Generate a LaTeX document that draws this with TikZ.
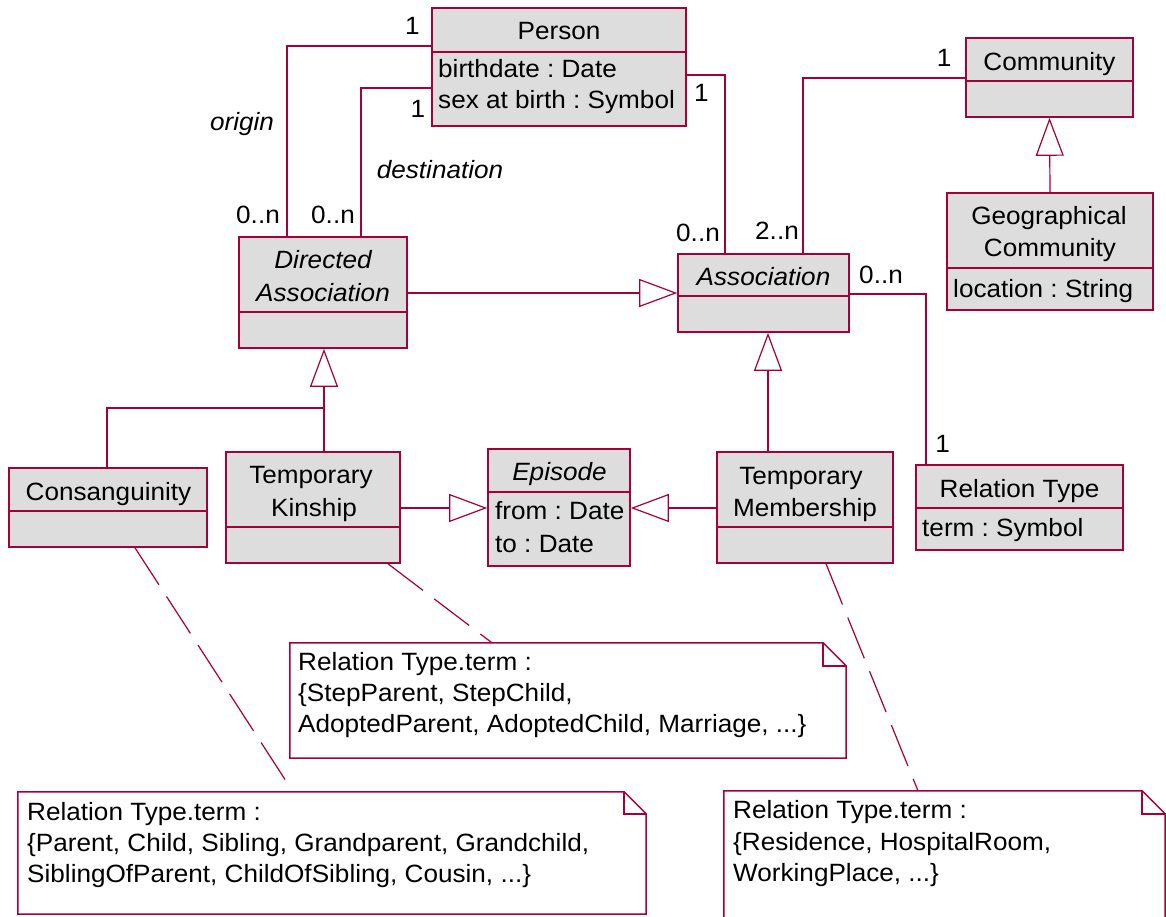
\documentclass[tikz,border=0pt]{standalone}
\usepackage{fontspec}
\setmainfont{Liberation Sans}[FakeStretch=1.045]
\frenchspacing
\usetikzlibrary{arrows.meta,fit}
\definecolor{umlred}{RGB}{165,0,55}
\definecolor{umlgray}{RGB}{221,221,221}

\begin{document}
\begin{tikzpicture}[x=1pt,y=-1pt,
  box/.style={draw=umlred, fill=umlgray, line width=1.6pt, inner sep=0pt},
  notebody/.style={draw=none, inner sep=0pt},
  noteline/.style={draw=umlred, line width=1.5pt},
  divider/.style={draw=umlred, line width=1.3pt},
  conn/.style={draw=umlred, line width=1.2pt},
  gen/.style={conn, -{Triangle[open, length=38pt, width=28pt]}},
  anchorline/.style={conn, dash pattern=on 44pt off 14pt},
  txt/.style={inner sep=0pt, font=\fontsize{25}{30}\selectfont, text=black},
  ttl/.style={txt, anchor=base},
  ittl/.style={txt, anchor=base, font=\fontsize{25}{30}\selectfont\itshape},
  attr/.style={txt, anchor=base west},
  mult/.style={txt, anchor=base},
  role/.style={txt, anchor=base, font=\fontsize{25}{30}\selectfont\itshape},
]
\clip (0,0) rectangle (1166,917);
\fill[white] (0,0) rectangle (1166,917);

% ---------- classes ----------
\node[box, fit={(432,8) (686,126)}] (person) {};
\draw[divider] (person.west |- 0,52) -- (person.east |- 0,52);
\node[ttl] (personName) at (559,40) {Person};
\node[attr] (personA1) at (438,78) {birthdate : Date};
\node[attr] (personA2) at (438,109) {sex at birth : Symbol};

\node[box, fit={(966,38) (1133,117)}] (community) {};
\draw[divider] (community.west |- 0,81) -- (community.east |- 0,81);
\node[ttl] (communityName) at (1049.5,71) {Community};

\node[box, fit={(947,193) (1153,310)}] (geo) {};
\draw[divider] (geo.west |- 0,268) -- (geo.east |- 0,268);
\node[ttl] (geoName1) at (1049,225) {Geographical};
\node[ttl] (geoName2) at (1050,256) {Community};
\node[attr] (geoA1) at (953,297) {location : String};

\node[box, fit={(678,254) (849,332)}] (assoc) {};
\draw[divider] (assoc.west |- 0,296) -- (assoc.east |- 0,296);
\node[ittl] (assocName) at (763.5,285) {Association};

\node[box, fit={(239,237) (407,348)}] (da) {};
\draw[divider] (da.west |- 0,312) -- (da.east |- 0,312);
\node[ittl] (daName1) at (323,269) {Directed};
\node[ittl] (daName2) at (323,301) {Association};

\node[box, fit={(9,468) (207,547)}] (consang) {};
\draw[divider] (consang.west |- 0,511) -- (consang.east |- 0,511);
\node[ttl] (consangName) at (108.5,500) {Consanguinity};

\node[box, fit={(226,452) (400,563)}] (tk) {};
\draw[divider] (tk.west |- 0,527) -- (tk.east |- 0,527);
\node[ttl] (tkName1) at (311,483) {Temporary};
\node[ttl] (tkName2) at (314,516) {Kinship};

\node[box, fit={(488,449) (630,566)}] (episode) {};
\draw[divider] (episode.west |- 0,492) -- (episode.east |- 0,492);
\node[ittl] (episodeName) at (559.5,480) {Episode};
\node[attr] (episodeA1) at (495,519) {from : Date};
\node[attr] (episodeA2) at (495,552) {to : Date};

\node[box, fit={(717,452) (893,563)}] (tm) {};
\draw[divider] (tm.west |- 0,527) -- (tm.east |- 0,527);
\node[ttl] (tmName1) at (801,484) {Temporary};
\node[ttl] (tmName2) at (805,516) {Membership};

\node[box, fit={(916,465) (1123,550)}] (reltype) {};
\draw[divider] (reltype.west |- 0,508) -- (reltype.east |- 0,508);
\node[ttl] (reltypeName) at (1019.5,497) {Relation Type};
\node[attr] (reltypeA1) at (922,536) {term : Symbol};

% ---------- associations ----------
\draw[conn] (person.west |- 0,46) -| (da.north -| 287,0);
\draw[conn] (person.west |- 0,88) -| (da.north -| 361,0);
\draw[conn] (person.east |- 0,75) -| (assoc.north -| 725,0);
\draw[conn] (community.west |- 0,78) -| (assoc.north -| 803,0);
\draw[conn] (assoc.east |- 0,294) -| (reltype.north -| 926,0);

% ---------- generalizations ----------
\draw[gen] (geo.north) -- (community.south);
\draw[gen] (da.east |- 0,293) -- (assoc.west |- 0,293);
\coordinate (kinJoin) at (324,408);
\draw[conn] (consang.north -| 107,0) |- (kinJoin);
\draw[conn] (tk.north -| kinJoin) -- (kinJoin);
\draw[gen] (kinJoin) -- (da.south -| kinJoin);
\draw[gen] (tk.east |- 0,508) -- (episode.west |- 0,508);
\draw[gen] (tm.west |- 0,508) -- (episode.east |- 0,508);
\draw[gen] (tm.north -| 768,0) -- (assoc.south -| 768,0);

% ---------- notes ----------
\node[notebody, fit={(290,643) (846,758)}] (nkin) {};
\draw[noteline, fill=white] (nkin.south west) -- (nkin.north west) -- ([xshift=-23pt]nkin.north east)
  -- ([yshift=-23pt]nkin.north east) -- (nkin.south east) -- cycle;
\draw[noteline] ([xshift=-23pt]nkin.north east) |- ([yshift=-23pt]nkin.north east);
\node[attr] (nkinT1) at (298,670.5) {Relation Type.term :};
\node[attr] (nkinT2) at (298,701.5) {\{StepParent, StepChild,};
\node[attr] (nkinT3) at (298,732) {AdoptedParent, AdoptedChild, Marriage, ...\}};

\node[notebody, fit={(18,792) (646,914)}] (ncons) {};
\draw[noteline, fill=white] (ncons.south west) -- (ncons.north west) -- ([xshift=-22pt]ncons.north east)
  -- ([yshift=-22pt]ncons.north east) -- (ncons.south east) -- cycle;
\draw[noteline] ([xshift=-22pt]ncons.north east) |- ([yshift=-22pt]ncons.north east);
\node[attr] (nconsT1) at (27,820) {Relation Type.term :};
\node[attr] (nconsT2) at (27,851) {\{Parent, Child, Sibling, Grandparent, Grandchild,};
\node[attr] (nconsT3) at (27,882) {SiblingOfParent, ChildOfSibling, Cousin, ...\}};

\node[notebody, fit={(724,791) (1165,940)}] (nmem) {};
\draw[noteline, fill=white] (nmem.south west) -- (nmem.north west) -- ([xshift=-23pt]nmem.north east)
  -- ([yshift=-23pt]nmem.north east) -- (nmem.south east) -- cycle;
\draw[noteline] ([xshift=-23pt]nmem.north east) |- ([yshift=-23pt]nmem.north east);
\node[attr] (nmemT1) at (733,818.5) {Relation Type.term :};
\node[attr] (nmemT2) at (733,850) {\{Residence, HospitalRoom,};
\node[attr] (nmemT3) at (733,881.5) {WorkingPlace, ...\}};

% ---------- note anchors ----------
\draw[anchorline] (consang.south -| 135,0) -- (ncons.north -| 293,0);
\draw[anchorline] (tk.south -| 388,0) -- (nkin.north -| 492,0);
\draw[anchorline] (tm.south -| 826,0) -- (nmem.north -| 918,0);

% ---------- multiplicities and roles ----------
\node[mult] (m1) at (412.5,35) {1};
\node[mult] (m2) at (418,118) {1};
\node[mult] (m3) at (701.5,102) {1};
\node[mult] (m4) at (258,224) {0..n};
\node[mult] (m5) at (333,224) {0..n};
\node[mult] (m6) at (698,242) {0..n};
\node[mult] (m7) at (777,240) {2..n};
\node[mult] (m8) at (944,67) {1};
\node[mult] (m9) at (881,283) {0..n};
\node[mult] (m10) at (942.5,452) {1};
\node[role] (rOrigin) at (242,131) {origin};
\node[role] (rDest) at (440,179) {destination};
\end{tikzpicture}
\end{document}
